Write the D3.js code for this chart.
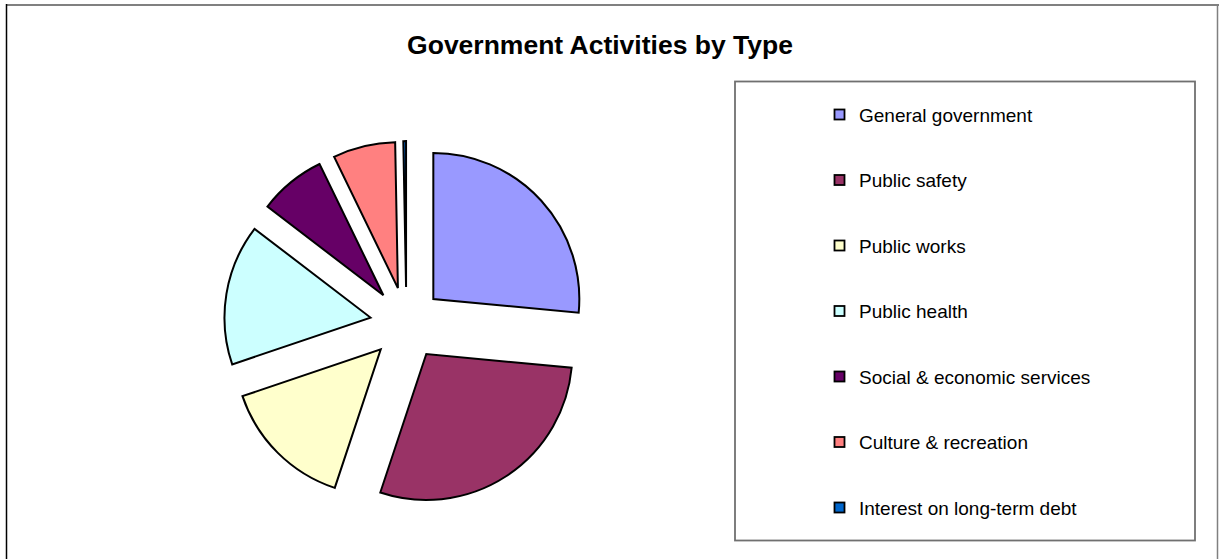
<!DOCTYPE html>
<html>
<head>
<meta charset="utf-8">
<script src="https://cdn.jsdelivr.net/npm/d3@7"></script>
<style>
  body { margin: 0; background: #fff; }
  text { font-family: "Liberation Sans", Arial, sans-serif; }
</style>
</head>
<body>
<svg width="1219" height="559"></svg>
<script>
// values (share of total, percent)
var categories = ["General government", "Public safety", "Public works", "Public health",
                  "Social & economic services", "Culture & recreation", "Interest on long-term debt"];
var values = [26.5, 28.6, 14.7, 15.6, 7.4, 6.9, 0.3];
var colors = ["#9999FF", "#993366", "#FFFFCC", "#CCFFFF", "#660066", "#FF8080", "#0066CC"];
var title = "Government Activities by Type";

var svg = d3.select("svg");

// chart area border
svg.append("line").attr("x1", 6).attr("y1", 5).attr("x2", 1219).attr("y2", 5)
   .attr("stroke", "#808080").attr("stroke-width", 2);
svg.append("line").attr("x1", 6.5).attr("y1", 4).attr("x2", 6.5).attr("y2", 559)
   .attr("stroke", "#000").attr("stroke-width", 1.5);
svg.append("line").attr("x1", 1217.5).attr("y1", 4).attr("x2", 1217.5).attr("y2", 559)
   .attr("stroke", "#808080").attr("stroke-width", 1.5);

svg.append("text")
   .attr("x", 600).attr("y", 54)
   .attr("text-anchor", "middle")
   .style("font-weight", "bold")
   .style("font-size", "26.5px")
   .text(title);

// pie
var cx = 406.4, cy = 323.5, r = 146, explode = 36.4;
var pie = d3.pie().sort(null).value(function(d) { return d; });
var arc = d3.arc().innerRadius(0).outerRadius(r);
var slices = pie(values);

svg.append("g")
   .attr("transform", "translate(" + cx + "," + cy + ")")
   .selectAll("path")
   .data(slices)
   .enter()
   .append("path")
   .attr("transform", function(d) {
       var a = (d.startAngle + d.endAngle) / 2;
       return "translate(" + (Math.sin(a) * explode) + "," + (-Math.cos(a) * explode) + ")";
   })
   .attr("d", arc)
   .attr("fill", function(d, i) { return colors[i]; })
   .attr("stroke", "#000")
   .attr("stroke-width", 2)
   .attr("stroke-linejoin", "miter");

// legend
svg.append("rect")
   .attr("x", 735).attr("y", 81.5).attr("width", 460).attr("height", 459)
   .attr("fill", "none").attr("stroke", "#707070").attr("stroke-width", 1.8);

var ly = d3.scalePoint().domain(categories).range([114.5, 507.5]);

var items = svg.append("g").selectAll("g")
   .data(categories)
   .enter()
   .append("g")
   .attr("transform", function(d) { return "translate(0," + ly(d) + ")"; });

items.append("rect")
   .attr("x", 834.5).attr("y", -5).attr("width", 10).attr("height", 10)
   .attr("fill", function(d, i) { return colors[i]; })
   .attr("stroke", "#000").attr("stroke-width", 1.8);

items.append("text")
   .attr("x", 859).attr("y", 7)
   .style("font-size", "19px")
   .style("fill", "#000")
   .text(function(d) { return d; });
</script>
</body>
</html>
